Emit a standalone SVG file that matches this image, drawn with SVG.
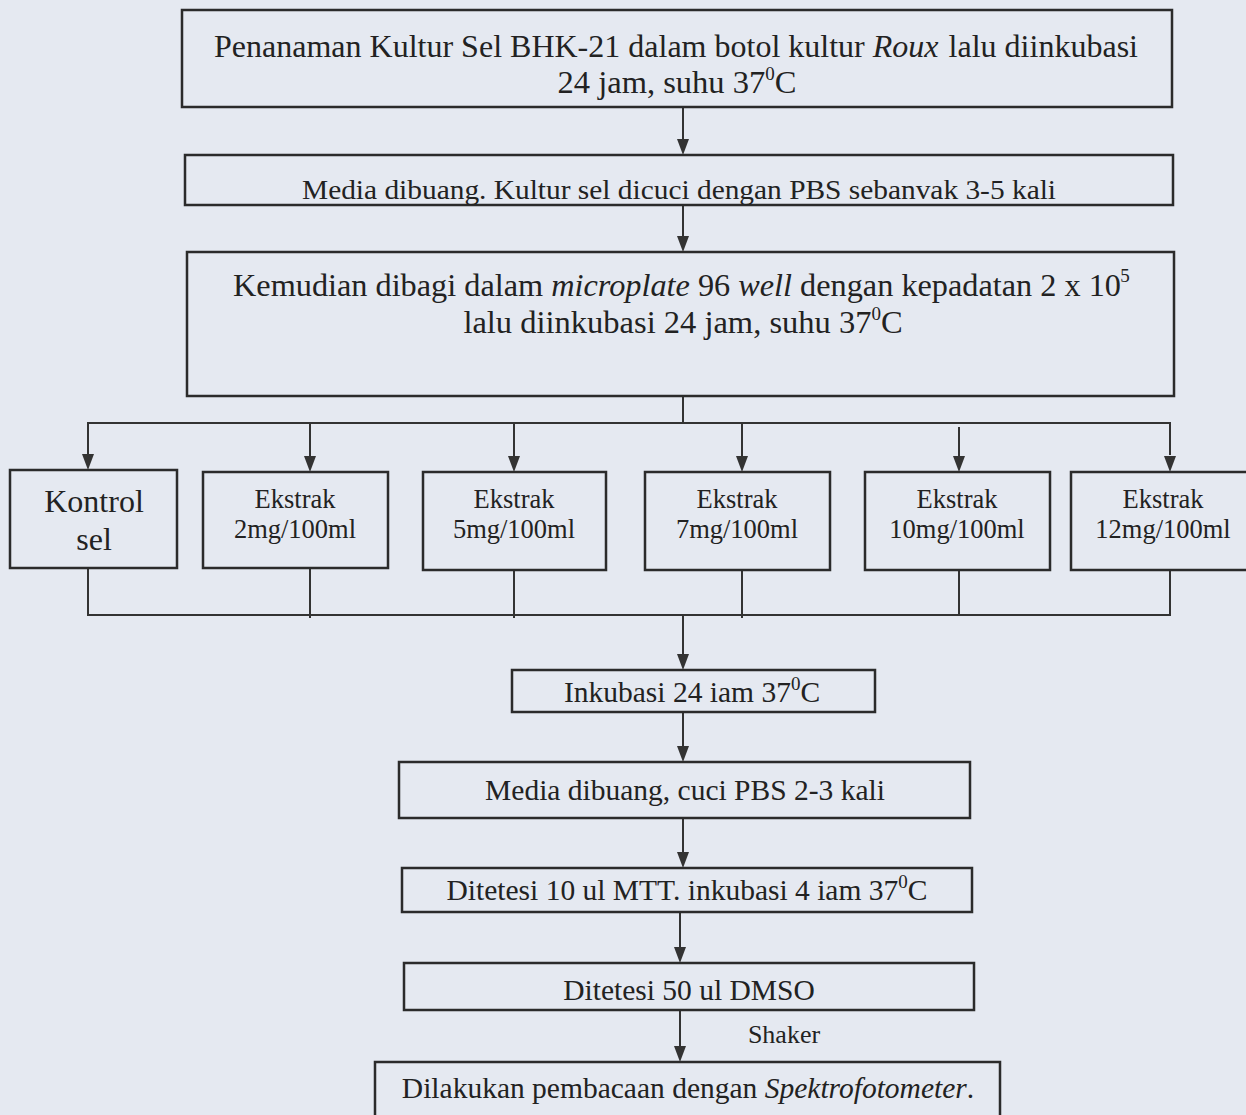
<svg xmlns="http://www.w3.org/2000/svg" width="1246" height="1115" viewBox="0 0 1246 1115">
<style>
.bx{fill:none;stroke:#2b2b2b;stroke-width:2.5}
.ln{fill:none;stroke:#333;stroke-width:2}
.ah{fill:#333}
text{font-family:"Liberation Serif","Times New Roman",serif;fill:#222;text-anchor:middle}
.big{font-size:32.5px}
.md{font-size:29.5px}
.sm{font-size:26.5px}
.sup{font-size:19px}
</style>
<rect x="0" y="0" width="1246" height="1115" fill="#e5e9f1"/>

<g id="connectors">
<path class="ln" d="M683,107 V140"/><path class="ah" d="M677,139 L689,139 L683,155 Z"/>
<path class="ln" d="M683,205 V237"/><path class="ah" d="M677,236 L689,236 L683,252 Z"/>
<path class="ln" d="M683,396 V423"/>
<path class="ln" d="M88,455 V423 H1170 V455"/>
<path class="ah" d="M82,454 L94,454 L88,470 Z"/>
<path class="ln" d="M310,423 V456"/><path class="ah" d="M304,456 L316,456 L310,472 Z"/>
<path class="ln" d="M514,423 V456"/><path class="ah" d="M508,456 L520,456 L514,472 Z"/>
<path class="ln" d="M742,423 V456"/><path class="ah" d="M736,456 L748,456 L742,472 Z"/>
<path class="ln" d="M959,427 V456"/><path class="ah" d="M953,456 L965,456 L959,472 Z"/>
<path class="ah" d="M1164,456 L1176,456 L1170,472 Z"/>
<path class="ln" d="M88,568 V615 H1170 V570"/>
<path class="ln" d="M310,568 V618"/>
<path class="ln" d="M514,570 V618"/>
<path class="ln" d="M742,570 V618"/>
<path class="ln" d="M959,570 V615"/>
<path class="ln" d="M683,615 V655"/><path class="ah" d="M677,654 L689,654 L683,670 Z"/>
<path class="ln" d="M683,712 V747"/><path class="ah" d="M677,746 L689,746 L683,762 Z"/>
<path class="ln" d="M683,818 V853"/><path class="ah" d="M677,852 L689,852 L683,868 Z"/>
<path class="ln" d="M680,912 V948"/><path class="ah" d="M674,947 L686,947 L680,963 Z"/>
<path class="ln" d="M680,1010 V1047"/><path class="ah" d="M674,1046 L686,1046 L680,1062 Z"/>
<text x="784" y="1043" style="font-size:26px">Shaker</text>
</g>

<g id="n1">
<rect class="bx" x="182" y="10" width="990" height="97"/>
<text x="676" y="57" style="font-size:31px" textLength="924" lengthAdjust="spacingAndGlyphs">Penanaman Kultur Sel BHK-21 dalam botol kultur <tspan font-style="italic">Roux</tspan> <tspan dx="2">lalu diinkubasi</tspan></text>
<text class="big" x="677" y="93">24 jam, suhu 37<tspan class="sup" dy="-13">0</tspan><tspan dy="13">C</tspan></text>
</g>

<g id="n2">
<rect class="bx" x="185" y="155" width="988" height="50"/>
<text x="679" y="199" style="font-size:28px" textLength="754" lengthAdjust="spacingAndGlyphs">Media dibuang. Kultur sel dicuci dengan PBS sebanvak 3-5 kali</text>
</g>

<g id="n3">
<rect class="bx" x="187" y="252" width="987" height="144"/>
<text class="big" x="677" y="296" textLength="888" lengthAdjust="spacingAndGlyphs">Kemudian dibagi dalam <tspan font-style="italic">microplate</tspan> 96 <tspan font-style="italic">well</tspan> dengan kepadatan 2 x 10</text>
<text class="sup" x="1125" y="282">5</text>
<text class="big" x="683" y="333">lalu diinkubasi 24 jam, suhu 37<tspan class="sup" dy="-13">0</tspan><tspan dy="13">C</tspan></text>
</g>

<g id="n4">
<rect class="bx" x="10" y="470" width="167" height="98"/>
<text x="94" y="512" style="font-size:32px">Kontrol</text>
<text x="94" y="550" style="font-size:32px">sel</text>
</g>
<g id="n5">
<rect class="bx" x="203" y="472" width="185" height="96"/>
<text class="sm" x="295" y="508">Ekstrak</text>
<text class="sm" x="295" y="538">2mg/100ml</text>
</g>
<g id="n6">
<rect class="bx" x="423" y="472" width="183" height="98"/>
<text class="sm" x="514" y="508">Ekstrak</text>
<text class="sm" x="514" y="538">5mg/100ml</text>
</g>
<g id="n7">
<rect class="bx" x="645" y="472" width="185" height="98"/>
<text class="sm" x="737" y="508">Ekstrak</text>
<text class="sm" x="737" y="538">7mg/100ml</text>
</g>
<g id="n8">
<rect class="bx" x="865" y="472" width="185" height="98"/>
<text class="sm" x="957" y="508">Ekstrak</text>
<text class="sm" x="957" y="538">10mg/100ml</text>
</g>
<g id="n9">
<rect class="bx" x="1071" y="472" width="185" height="98"/>
<text class="sm" x="1163" y="508">Ekstrak</text>
<text class="sm" x="1163" y="538">12mg/100ml</text>
</g>

<g id="n10">
<rect class="bx" x="512" y="670" width="363" height="42"/>
<text class="md" x="692" y="702">Inkubasi 24 iam 37<tspan class="sup" dy="-12">0</tspan><tspan dy="12">C</tspan></text>
</g>
<g id="n11">
<rect class="bx" x="399" y="762" width="571" height="56"/>
<text class="md" x="685" y="800">Media dibuang, cuci PBS 2-3 kali</text>
</g>
<g id="n12">
<rect class="bx" x="402" y="868" width="570" height="44"/>
<text class="md" x="687" y="900">Ditetesi 10 ul MTT. inkubasi 4 iam 37<tspan class="sup" dy="-12">0</tspan><tspan dy="12">C</tspan></text>
</g>
<g id="n13">
<rect class="bx" x="404" y="963" width="570" height="47"/>
<text class="md" x="689" y="1000">Ditetesi 50 ul DMSO</text>
</g>
<g id="n14">
<rect class="bx" x="375" y="1062" width="625" height="70"/>
<text class="md" x="688" y="1098">Dilakukan pembacaan dengan <tspan font-style="italic">Spektrofotometer</tspan>.</text>
</g>
</svg>
